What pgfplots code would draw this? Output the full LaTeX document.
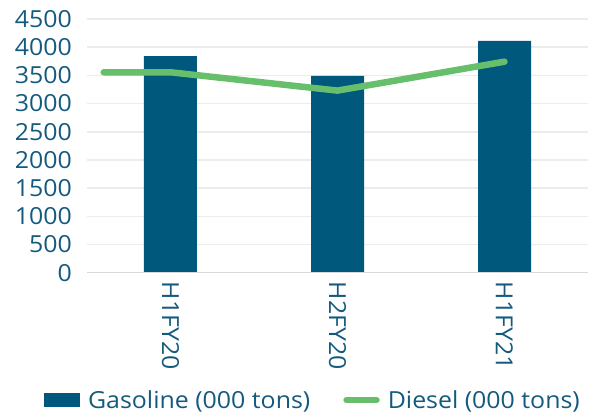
\documentclass[border=0pt]{standalone}
\usepackage{fontspec}
\setmainfont{Open Sans}[FakeStretch=1.06]
\usepackage{pgfplots}
\pgfplotsset{compat=1.18}

\definecolor{gasblue}{RGB}{0,88,124}
\definecolor{dieselgreen}{RGB}{104,191,107}
\definecolor{labelblue}{RGB}{20,90,126}
\definecolor{gridgray}{RGB}{236,236,236}
\definecolor{axisgray}{RGB}{217,217,217}

\newcommand{\chartfont}{\fontsize{23.5}{28}\selectfont}

\begin{document}
\begin{tikzpicture}
% fixed canvas around the plot area
\useasboundingbox (-87pt,-141.3pt) rectangle (508pt,272.7pt);
\begin{axis}[
  at={(0,0)}, anchor=south west,
  scale only axis, width=501pt, height=253.7pt,
  xmin=-0.5, xmax=2.5, ymin=0, ymax=4500,
  ytick={0,500,...,4500},
  xtick={0,1,2}, xticklabels={H1FY20,H2FY20,H1FY21},
  axis line style={draw=none},
  major tick length=0pt,
  ymajorgrids, grid style={gridgray, line width=1.5pt},
  /pgf/number format/assume math mode=true,
  /pgf/number format/set thousands separator={},
  tick label style={font=\chartfont, color=labelblue},
  yticklabel style={anchor=east, inner sep=0pt, xshift=-15pt},
  xticklabel style={yshift=-9pt, rotate=-90, anchor=west, inner sep=0pt},
  legend columns=2,
  legend cell align=left,
  legend style={draw=none, fill=none, font=\chartfont, text=labelblue,
    at={(axis description cs:0.449,-0.502)}, anchor=center,
    /tikz/every even column/.append style={column sep=33pt},
    nodes={inner sep=0pt, text depth=0pt}},
]
\addplot[ybar, bar width=53pt, fill=gasblue, draw=none,
  legend image code/.code={\fill[gasblue] (0pt,-7pt) rectangle (36pt,7pt);}]
  coordinates {(0,3843) (1,3489) (2,4110)};
\addlegendentry{\hspace{8pt}Gasoline (000 tons)}
\addplot[dieselgreen, line width=6.5pt, line cap=round, line join=round, mark=none,
  legend image code/.code={\draw[dieselgreen, line width=6.5pt, line cap=round] (3pt,0pt) -- (33pt,0pt);}]
  coordinates {(-0.4,3555) (0,3555) (1,3230) (2,3743)};
\addlegendentry{\hspace{8pt}Diesel (000 tons)}
\draw[axisgray, line width=1.5pt] (axis cs:-0.5,0) -- (axis cs:2.5,0);
\end{axis}
\end{tikzpicture}
\end{document}
